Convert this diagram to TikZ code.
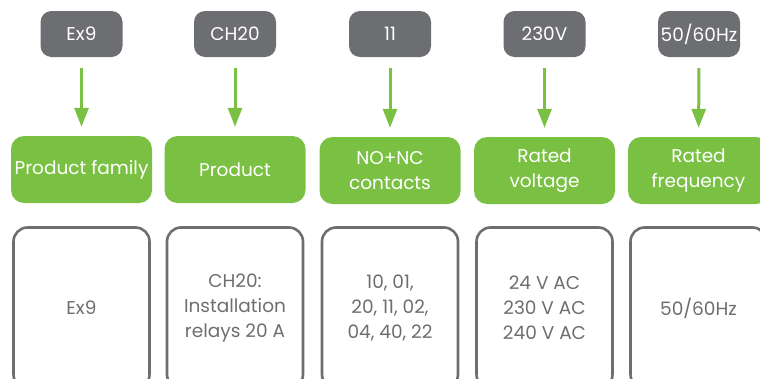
\documentclass[tikz,border=0pt]{standalone}
\usepackage{fontspec}
\setmainfont{Poppins}
\usetikzlibrary{arrows.meta}
\definecolor{relaygreen}{RGB}{122,193,67}
\definecolor{relaygrey}{RGB}{109,110,113}

\begin{document}
\begin{tikzpicture}[x=1pt, y=-1pt,
  code/.style={fill=relaygrey, text=white, rounded corners=11pt, inner sep=0pt, minimum width=82pt, minimum height=46pt, font=\fontsize{18.5}{25}\selectfont},
  field/.style={fill=relaygreen, text=white, rounded corners=13pt, align=center, inner sep=0pt, minimum width=141pt, minimum height=67pt, font=\fontsize{18.5}{25}\selectfont},
  value/.style={draw=relaygrey, line width=2.6pt, text=relaygrey, rounded corners=14pt, align=center, inner sep=0pt, minimum width=136pt, minimum height=161pt, font=\fontsize{18.5}{25}\selectfont},
  link/.style={draw=relaygreen, line width=3pt, shorten <=11pt, shorten >=9pt},
  >={Triangle[width=14pt,length=19pt]}]
  \clip (0,0) rectangle (760,378);
  \node[code] (c1) at (81.5,34) {Ex9};
  \node[code] (c2) at (235,34) {CH20};
  \node[code] (c3) at (390,34) {11};
  \node[code] (c4) at (544.5,34) {230V};
  \node[code] (c5) at (699,34) {50/60Hz};
  \node[field] (f1) at (81.5,169.5) {Product family};
  \node[field] (f2) at (235,169.5) {Product};
  \node[field] (f3) at (390,170.5) {NO+NC\\contacts};
  \node[field] (f4) at (544.5,170.5) {Rated\\voltage};
  \node[field] (f5) at (698.5,170.5) {Rated\\frequency};
  \node[value] (v1) at (81.5,308) {Ex9};
  \node[value] (v2) at (235,308) {CH20:\\Installation\\relays 20 A};
  \node[value] (v3) at (390,308) {10, 01,\\20, 11, 02,\\04, 40, 22};
  \node[value] (v4) at (544.5,308) {24 V AC\\230 V AC\\240 V AC};
  \node[value] (v5) at (698.5,308) {50/60Hz};
  \draw[link,->] (c1) -- (f1);
  \draw[link,->] (c2) -- (f2);
  \draw[link,->] (c3) -- (f3);
  \draw[link,->] (c4) -- (f4);
  \draw[link,->] (c5) -- (f5);
\end{tikzpicture}
\end{document}
